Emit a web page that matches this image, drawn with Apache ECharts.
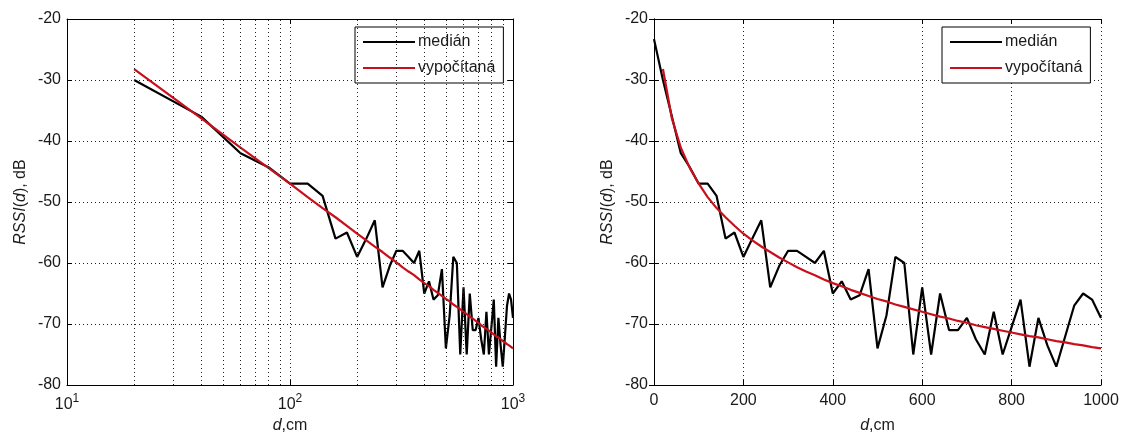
<!DOCTYPE html>
<html>
<head>
<meta charset="utf-8">
<script src="https://cdn.jsdelivr.net/npm/echarts@6/dist/echarts.min.js"></script>
<style>
html,body{margin:0;padding:0;background:#fff;}
#c{width:1125px;height:439px;}
</style>
</head>
<body>
<div id="c"></div>
<script>
// distance, cm (measurement points)
const distances = [0,20,40,60,80,100,120,140,160,180,200,220,240,260,280,300,320,340,360,380,400,
  420,440,460,480,500,520,540,560,580,600,620,640,660,680,700,720,740,760,780,800,
  820,840,860,880,900,920,940,960,980,1000];
// median RSSI, dB
const medianRSSI = [-23.3,-30,-36,-42,-44.3,-47,-47,-49,-56,-55,-59,-56,-53,-64,-60.5,-58,-58,-59,-60,-58,-65,
  -63,-66,-65.3,-61,-74,-68.6,-59,-60,-75,-64,-75,-65,-71,-71,-69,-72.5,-75,-68,-75,-70.5,
  -66,-77,-69,-73.5,-77,-72,-67,-65,-66,-69];
// calculated RSSI, dB (from d = 20 cm)
const calcDistances = [20,40,60,80,100,120,140,160,180,200,220,240,260,280,300,320,340,360,380,400,
  420,440,460,480,500,520,540,560,580,600,620,640,660,680,700,720,740,760,780,800,
  820,840,860,880,900,920,940,960,980,1000];
const calcRSSI = [-28.2,-36.3,-41.1,-44.4,-47.0,-49.2,-51.0,-52.5,-53.9,-55.2,-56.3,-57.3,-58.2,-59.1,-59.9,-60.7,-61.4,-62.0,-62.7,-63.3,
  -63.8,-64.4,-64.9,-65.4,-65.9,-66.3,-66.8,-67.2,-67.6,-68.0,-68.4,-68.8,-69.1,-69.5,-69.8,-70.2,-70.5,-70.8,-71.1,-71.4,
  -71.7,-72.0,-72.2,-72.5,-72.8,-73.0,-73.3,-73.5,-73.8,-74.0];
// log-axis minor grid positions
const logMinorTicks = [20,30,40,50,60,70,80,90,200,300,400,500,600,700,800,900];
const yTicks = {min:-80, max:-20, interval:10};
const linTicks = {min:0, max:1000, interval:200};

const FONT = 'Liberation Sans, Arial, Helvetica, sans-serif';
const TXT = '#1a1a1a';
const medianPairs = distances.map((d,i)=>[d, medianRSSI[i]]);
const calcPairs = calcDistances.map((d,i)=>[d, calcRSSI[i]]);
const dotted = {color:'#222', width:1, type:[1,3]};

function yAxes(gi){
  return [
    {type:'value', gridIndex:gi, position:'left', min:yTicks.min, max:yTicks.max, interval:yTicks.interval,
     axisLine:{show:true, lineStyle:{color:'#000', width:1}},
     axisTick:{show:true, inside:true, length:5, lineStyle:{color:'#000'}},
     axisLabel:{color:TXT, fontSize:16, fontFamily:FONT, margin:6},
     splitLine:{show:true, lineStyle:dotted},
     name:'{i|RSSI}({i|d}), dB', nameLocation:'middle', nameGap:38, nameRotate:90,
     nameTextStyle:{color:TXT, fontSize:16, fontFamily:FONT,
       rich:{i:{fontStyle:'italic', fontSize:16, fontFamily:FONT, color:TXT}}}},
    {type:'value', gridIndex:gi, position:'right', min:yTicks.min, max:yTicks.max, interval:yTicks.interval,
     axisLine:{show:true, lineStyle:{color:'#000', width:1}},
     axisTick:{show:true, inside:true, length:5, lineStyle:{color:'#000'}},
     axisLabel:{show:false}, splitLine:{show:false}}
  ];
}
const xName = {name:'{i|d},cm', nameLocation:'middle', nameGap:33,
  nameTextStyle:{color:TXT, fontSize:16, fontFamily:FONT,
    rich:{i:{fontStyle:'italic', fontSize:16, fontFamily:FONT, color:TXT}}}};

function legendAt(left){
  return {data:[{name:'medián', icon:'rect'},{name:'vypočítaná', icon:'rect'}],
    orient:'vertical', left:left, top:27,
    itemWidth:52, itemHeight:2, itemGap:10, padding:[7,8,7,8],
    borderColor:'#000', borderWidth:1, backgroundColor:'#fff',
    textStyle:{color:TXT, fontSize:16, fontFamily:FONT, padding:[0,0,0,-2]}, selectedMode:false};
}

const option = {
  animation:false,
  backgroundColor:'#fff',
  grid:[
    {left:67, top:19, width:446, height:367},
    {left:654, top:19, width:447, height:367}
  ],
  xAxis:[
    Object.assign({type:'log', logBase:10, gridIndex:0, position:'bottom', min:10, max:1000,
     axisLine:{show:true, onZero:false, lineStyle:{color:'#000', width:1}},
     axisTick:{show:true, inside:true, length:5, lineStyle:{color:'#000'}},
     axisLabel:{color:TXT, fontSize:16, fontFamily:FONT, margin:8,
       formatter:v=>'10{s|'+Math.round(Math.log10(v))+'}',
       rich:{s:{fontSize:12, fontFamily:FONT, color:TXT, padding:[0,0,12,0]}}},
     splitLine:{show:true, lineStyle:dotted}}, xName),
    {type:'log', logBase:10, gridIndex:0, position:'top', min:10, max:1000,
     axisLine:{show:true, onZero:false, lineStyle:{color:'#000', width:1}},
     axisTick:{show:true, inside:true, length:5, lineStyle:{color:'#000'}},
     axisLabel:{show:false}, splitLine:{show:false}},
    Object.assign({type:'value', gridIndex:1, position:'bottom', min:linTicks.min, max:linTicks.max, interval:linTicks.interval,
     axisLine:{show:true, onZero:false, lineStyle:{color:'#000', width:1}},
     axisTick:{show:true, inside:true, length:5, lineStyle:{color:'#000'}},
     axisLabel:{color:TXT, fontSize:16, fontFamily:FONT, margin:8, formatter:v=>String(v)},
     splitLine:{show:true, lineStyle:dotted}}, xName),
    {type:'value', gridIndex:1, position:'top', min:linTicks.min, max:linTicks.max, interval:linTicks.interval,
     axisLine:{show:true, onZero:false, lineStyle:{color:'#000', width:1}},
     axisTick:{show:true, inside:true, length:5, lineStyle:{color:'#000'}},
     axisLabel:{show:false}, splitLine:{show:false}}
  ],
  yAxis: yAxes(0).concat(yAxes(1)),
  legend:[legendAt(355), legendAt(942)],
  series:[
    {name:'medián', type:'line', xAxisIndex:0, yAxisIndex:0, showSymbol:false, symbol:'none',
     data: medianPairs.filter(p=>p[0]>0), lineStyle:{color:'#000', width:2.2}, itemStyle:{color:'#000'}, z:3,
     markLine:{silent:true, symbol:'none', label:{show:false}, lineStyle:dotted, animation:false,
       data: logMinorTicks.map(v=>({xAxis:v}))}},
    {name:'vypočítaná', type:'line', xAxisIndex:0, yAxisIndex:0, showSymbol:false, symbol:'none',
     data: calcPairs, lineStyle:{color:'#c8101c', width:2.2}, itemStyle:{color:'#c8101c'}, z:4},
    {name:'medián', type:'line', xAxisIndex:2, yAxisIndex:2, showSymbol:false, symbol:'none',
     data: medianPairs, lineStyle:{color:'#000', width:2.2}, itemStyle:{color:'#000'}, z:3},
    {name:'vypočítaná', type:'line', xAxisIndex:2, yAxisIndex:2, showSymbol:false, symbol:'none',
     data: calcPairs, lineStyle:{color:'#c8101c', width:2.2}, itemStyle:{color:'#c8101c'}, z:4}
  ]
};
const chart = echarts.init(document.getElementById('c'), null, {renderer:'canvas'});
chart.setOption(option);
</script>
</body>
</html>
